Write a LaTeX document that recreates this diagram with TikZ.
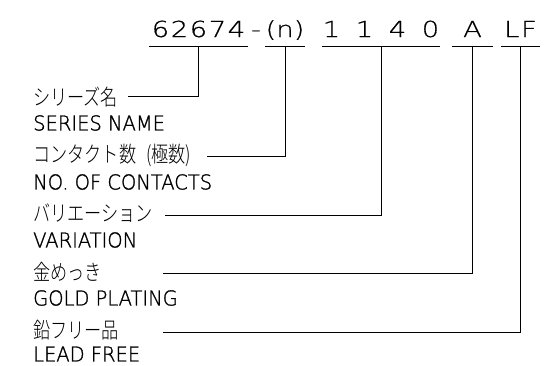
\documentclass[tikz,border=0pt]{standalone}
\usepackage{fontspec}
\setmainfont{DejaVu Sans ExtraLight}[FakeStretch=0.95,FakeBold=1.3]
\newfontfamily\codefont{DejaVu Sans ExtraLight}[FakeStretch=1.25,FakeBold=0.6]
\newfontfamily\cjk{Noto Sans CJK JP Light}[FakeStretch=0.78]
\newcommand\cb[2]{\makebox[#1pt]{#2}}
\begin{document}
\begin{tikzpicture}[x=1pt,y=-1pt,
  lab/.style={anchor=west,inner sep=0,font=\fontsize{20.5}{20.5}\selectfont},
  jlab/.style={anchor=west,inner sep=0,font=\cjk\fontsize{22}{22}\selectfont},
  code/.style={anchor=base,inner sep=0,text depth=9.5pt,font=\codefont\fontsize{22}{22}\selectfont},
  ln/.style={line width=0.9pt,line cap=rect}]
\useasboundingbox (0,0) rectangle (545,365);
% code groups
\node[code,minimum width=97pt] (g1) at (198.5,37) {\cb{19}{6}\cb{19}{2}\cb{19}{6}\cb{19}{7}\cb{19}{4}};
\node[code] (dash) at (256,37) {-};
\node[code,minimum width=38pt] (g2) at (285,37) {(n)};
\node[code,minimum width=116pt] (g3) at (381,37) {\makebox[116pt]{\cb{33}{1}\cb{33}{1}\cb{33}{4}\cb{33}{0}}};
\node[code,minimum width=39pt] (g4) at (472.5,37) {A};
\node[code,minimum width=38pt] (g5) at (520.5,37) {\makebox[36pt]{L\hfil F}};
% labels
\node[jlab] (j1) at (33,97) {シリーズ名};
\node[lab] (l1) at (33,123) {SERIES NAME};
\node[jlab] (j2) at (33,155) {コンタクト数\hspace{10pt}(極数)};
\node[lab] (l2) at (33,182) {NO. OF CONTACTS};
\node[jlab] (j3) at (33,213) {バリエーション};
\node[lab] (l3) at (33,240) {VARIATION};
\node[jlab] (j4) at (33,272) {金めっき};
\node[lab] (l4) at (33,298) {GOLD PLATING};
\node[jlab] (j5) at (33,330) {鉛フリー品};
\node[lab] (l5) at (33,354) {LEAD FREE};
% free ends
\coordinate (e1) at (128,96);
\coordinate (e2) at (207,156);
\coordinate (e3) at (165,215);
\coordinate (e4) at (163,273);
\coordinate (e5) at (163,332);
% underlines
\foreach \g in {g1,g2,g3,g4,g5}
  \draw[ln] (\g.south west) -- (\g.south east);
% connectors
\draw[ln] (g1.south) |- (e1);
\draw[ln] (g2.south) |- (e2);
\draw[ln] (g3.south) |- (e3);
\draw[ln] (g4.south) |- (e4);
\draw[ln] (g5.south) |- (e5);
\end{tikzpicture}
\end{document}
